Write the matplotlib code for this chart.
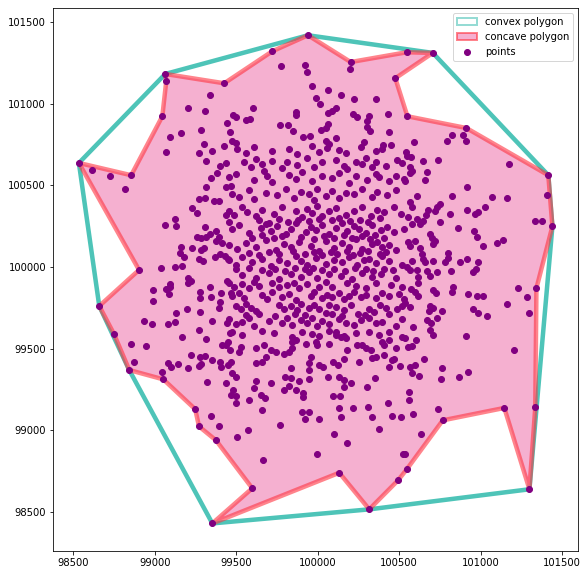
import matplotlib
matplotlib.use('Agg')
import matplotlib.pyplot as plt
from matplotlib.patches import Polygon, Patch
from matplotlib.lines import Line2D

# ---- hull vertices ----
convex_x = [98535, 99065, 99941, 100707, 101416, 101441, 101300, 100317, 99354, 98844, 98660]
convex_y = [100637, 101182, 101419, 101311, 100562, 100249, 98639, 98516, 98430, 99369, 99761]

concave_x = [99941, 100203, 100547, 100707, 100477, 100551, 100913, 101416, 101441, 101343,
             101336, 101300, 101146, 100768, 100547, 100494, 100317, 100133, 99354, 99599,
             99376, 99272, 99249, 99053, 98844, 98750, 98660, 98904, 98535, 98856,
             99047, 99071, 99065, 99427, 99722]
concave_y = [101419, 101255, 101315, 101311, 101156, 100923, 100851, 100562, 100249, 99870,
             99141, 98639, 99137, 99061, 98761, 98694, 98516, 98740, 98430, 98645,
             98939, 99024, 99129, 99312, 99369, 99590, 99761, 99982, 100637, 100562,
             100923, 101137, 101182, 101125, 101321]

# ---- point cloud, grouped by region ----
pts_top = [(99341,101052),(99206,100974),(99311,100954),(99481,100933),(99446,100880),(99286,100837),
    (99163,100819),(99096,100796),(99464,100825),(99304,100753),(99427,100739),
    (99777,101229),(99924,101235),(99937,101192),(100197,101214),(99967,101107),(100066,101082),
    (99992,101035),(100017,100996),(100145,101051),(100225,101027),(100360,101027),(100066,100941),
    (100090,100957),(100115,100974),(99869,100949),(99869,100929),(99605,100972),(99497,100920),
    (99562,100898),(99587,100906),(99771,100868),(99820,100868),(99851,100831),(99909,100794),
    (99953,100800),(100023,100837),(100050,100851),(100066,100876),(100111,100790),(100050,100773),
    (100070,100753),(100219,100937),(100244,100917),(100316,100923),(100305,100892),(100301,100859),
    (100320,100831),(100434,100935),(100440,100825),(100287,100766),(100403,100749),(99501,100759),
    (99476,100773),(100594,100764),(100796,100773),(100827,100807),(100894,100810),(100913,100770)]

pts_left = [(98617,100594),(98724,100555),(98819,100478),(99071,100702),(99272,100696),(99354,100709),
    (99317,100651),(99438,100637),(99399,100620),(99384,100574),(99347,100543),(99317,100488),
    (99440,100488),(99466,100498),(99270,100416),(99307,100423),(99364,100402),(99395,100402),
    (99231,100360),(99261,100329),(99440,100320),(99454,100274),(99061,100257),(99123,100294),
    (99133,100253),(99311,100243),(99261,100182),(99286,100176),(99317,100182),(99338,100202),
    (99378,100222),(99393,100186),(99374,100157),(99415,100145),(99163,100124),(99153,100084),
    (99178,100063),(99231,100115),(99286,100104),(99301,100116),(99270,100049),(99296,100035),
    (99368,100059),(99399,100080),(99430,100069),(99450,100049),(99040,99992),(99123,99998),
    (99169,100004),(99204,99933),(99225,99916),(99444,99916),(99096,99896)]

pts_right = [(100547,100682),(100573,100672),(100567,100611),(100578,100590),(100567,100574),(100649,100651),
    (100741,100655),(100670,100580),(100659,100533),(100537,100529),(101177,100631),(100919,100488),
    (100608,100433),(100823,100433),(101073,100427),(101161,100421),(100567,100396),(100578,100366),
    (100557,100304),(100608,100294),(100578,100263),(100629,100263),(100649,100284),(100664,100318),
    (100680,100349),(100721,100345),(100731,100366),(100751,100386),(100915,100349),(100966,100325),
    (100987,100335),(101028,100366),(100815,100325),(100751,100274),(100864,100239),(101335,100280),
    (101379,100280),(100690,100202),(100700,100178),(100721,100161),(100710,100141),(100962,100219),
    (100977,100186),(100557,100151),(100598,100157),(100567,100130),(101017,100127),(101100,100145),
    (101140,100167),(100629,100116),(100639,100080),(100649,100049),(100659,100029),(100578,100039),
    (100710,100039),(100782,100029),(100802,100053),(100802,100084),(100874,100029),(100915,100049),
    (100987,100029),(100547,99998),(100567,99982),(100608,99982),(100670,99977),(100690,99947),
    (100735,99968),(100817,99974),(100956,99968),(100971,99986),(100618,99941),(100618,99900),
    (101410,100439)]

pts_right_low = [(100573,99863),(100598,99849),(100618,99822),(100710,99859),(100725,99843),(100833,99876),
    (100827,99849),(100920,99837),(100980,99822),(101017,99822),(101232,99870),(101287,99814),
    (101165,99773),(101300,99716),(100569,99753),(100537,99778),(100690,99761),(100684,99732),
    (100710,99747),(100762,99732),(100956,99741),(100987,99716),(101042,99700),(100670,99675),
    (100696,99659),(100690,99614),(100710,99584),(100735,99686),(100588,99631),(100911,99577),
    (100537,99563),(100606,99551),(100553,99512),(100578,99516),(101208,99492),(100655,99435),
    (100567,99389),(100598,99400),(100581,99349),(100624,99334),(100762,99380),(100758,99312),
    (100870,99324),(100925,99355),(100561,99234),(100561,99185),(100741,99130),(100588,99098),
    (100635,98975),(100537,98853)]

pts_left_low = [(98990,99859),(99071,99863),(99096,99879),(99088,99833),(98990,99792),(99204,99904),
    (99276,99849),(99276,99808),(99338,99879),(99347,99814),(99399,99787),(99395,99747),
    (99470,99839),(99409,99839),(99132,99716),(99200,99741),(99276,99726),(99123,99665),
    (99082,99649),(98934,99671),(98985,99649),(99354,99671),(99444,99655),(99460,99594),
    (99270,99614),(99317,99557),(99169,99573),(99450,99543),(99440,99522),(99460,99492),
    (99415,99522),(98856,99527),(98945,99518),(99225,99461),(99276,99447),(99307,99455),
    (99270,99394),(99286,99406),(99354,99430),(99399,99420),(99409,99386),(99450,99400),
    (99470,99420),(99204,99380),(99143,99404),(99082,99414),(99102,99386),(98873,99420),
    (99047,99357),(99323,99298),(99440,99288),(99470,99216),(99481,99247),(99347,99088),
    (99395,99024)]

pts_bottom = [(99507,98961),(99575,99002),(99769,99031),(99921,99071),(100009,99067),(100142,99083),
    (100336,99083),(100377,99006),(100514,99081),(100455,99088),(100101,98975),(100182,98920),
    (99998,98853),(99667,98816),(100526,98853)]

pts_center_low = [(99660,99124),(99906,99114),(99947,99114),(100131,99135),(100217,99135),(100311,99144),
    (100434,99165),(100096,99210),(100138,99210),(99910,99227),(99910,99202),(99651,99216),
    (99677,99196),(99501,99169),(99497,99210),(99716,99288),(99794,99247),(99824,99271),
    (99866,99247),(99886,99304),(99947,99312),(100064,99324),(100131,99328),(100162,99308),
    (100162,99267),(100203,99291),(100305,99263),(100350,99318),(100438,99386),(100506,99394),
    (100459,99430),(99620,99304),(99610,99257),(99579,99185),(99835,99380),(99800,99324),
    (99835,99318),(99947,99369),(99947,99410),(99958,99451),(100009,99400),(100035,99389),
    (100096,99420),(100127,99400),(100162,99437),(100254,99420),(100336,99441),(100408,99461),
    (100469,99435),(99476,99349),(99497,99328),(99620,99410),(99660,99420),(99681,99451),
    (99712,99492),(99743,99481),(99794,99467),(99824,99481),(99841,99502),(99845,99543),
    (99866,99553),(99528,99512),(99517,99481),(99620,99502),(99671,99522),(99927,99527),
    (99988,99543),(99998,99522),(100070,99527),(100111,99584),(100142,99573),(100173,99563),
    (100182,99492),(100244,99522),(100274,99522),(100295,99502),(100326,99492),(100357,99451),
    (100397,99543),(100438,99553),(100480,99502),(100408,99522)]

pts_center_mid = [
    (99456,99905),(99487,99880),(99538,99895),(99579,99870),(99610,99910),(99640,99885),(99722,99900),
    (99763,99875),(99814,99890),(99855,99905),(99886,99870),(99937,99895),(100009,99880),(100050,99910),
    (100090,99875),(100182,99900),(100234,99885),(100295,99870),(100357,99905),(100449,99890),(100520,99880),
    (99476,99820),(99517,99840),(99548,99810),(99660,99830),(99691,99805),(99722,99845),(99783,99815),
    (99824,99835),(99866,99800),(99958,99825),(99978,99845),(100029,99810),(100060,99830),(100090,99815),
    (100131,99840),(100162,99805),(100193,99825),(100224,99845),(100265,99815),(100295,99830),(100357,99810),
    (100397,99840),(100438,99820),(100500,99835),(100530,99805),
    (99497,99760),(99528,99740),(99559,99775),(99589,99750),(99620,99730),(99763,99770),(99794,99745),
    (99835,99760),(99875,99735),(99896,99775),(99947,99750),(99978,99765),(100009,99740),(100050,99720),
    (100070,99770),(100111,99755),(100162,99735),(100203,99765),(100316,99745),(100346,99725),(100385,99770),
    (100418,99750),(100489,99740),(100520,99760),
    (99456,99680),(99497,99650),(99538,99665),(99579,99690),(99610,99640),(99702,99670),(99783,99655),
    (99814,99685),(99845,99645),(99896,99675),(99937,99660),(99967,99690),(99998,99640),(100029,99670),
    (100070,99650),(100131,99680),(100173,99660),(100224,99645),(100265,99675),(100316,99690),(100357,99655),
    (100397,99665),(100480,99640),(100520,99680),
    (99476,99600),(99538,99585),(99660,99610),(99732,99595),(99845,99570),(99906,99605),(99967,99590),
    (100009,99575),(100070,99610),(100111,99600),(100162,99580),(100234,99595),(100316,99605),(100377,99585),
    (100438,99600),(100520,99570)]

pts_center_high = [
    (99507,100720),(99559,100700),(99610,100735),(99722,100710),(99824,100725),(99875,100695),(99967,100740),
    (100009,100705),(100060,100730),(100131,100715),(100173,100700),(100265,100735),(100357,100710),
    (100397,100725),(100449,100745),(100541,100705),
    (99548,100640),(99589,100615),(99620,100660),(99660,100630),(99722,100650),(99783,100605),(99814,100645),
    (99875,100625),(99937,100665),(99978,100610),(100029,100640),(100111,100655),(100162,100620),(100182,100600),
    (100234,100645),(100274,100630),(100295,100665),(100336,100610),(100357,100640),(100418,100620),
    (100489,100655),(100520,100635),
    (99456,100550),(99497,100570),(99610,100530),(99671,100585),(99691,100555),(99722,100520),(99824,100565),
    (99866,100540),(99906,100580),(99967,100525),(100029,100560),(100090,100545),(100131,100575),(100193,100515),
    (100234,100555),(100305,100535),(100357,100570),(100377,100550),(100438,100525),(100480,100560),(100530,100540),
    (99476,100450),(99517,100430),(99579,100470),(99610,100415),(99681,100455),(99753,100440),(99804,100480),
    (99855,100425),(99896,100460),(99947,100445),(99978,100410),(99998,100475),(100050,100435),(100090,100465),
    (100131,100420),(100173,100455),(100224,100445),(100274,100480),(100336,100430),(100367,100460),
    (100428,100440),(100480,100470),
    (99456,100340),(99487,100320),(99538,100365),(99568,100335),(99620,100310),(99660,100350),(99732,100325),
    (99783,100370),(99866,100340),(99906,100305),(99937,100355),(99967,100330),(99998,100375),(100029,100315),
    (100070,100345),(100111,100360),(100173,100320),(100224,100340),(100274,100370),(100326,100310),
    (100367,100350),(100408,100335),(100469,100365),(100510,100325),
    (99476,100230),(99517,100255),(99579,100210),(99651,100240),(99681,100265),(99712,100220),(99753,100250),
    (99804,100200),(99835,100235),(99866,100270),(99927,100215),(99958,100245),(99988,100225),(100029,100260),
    (100070,100205),(100111,100240),(100152,100270),(100182,100220),(100224,100250),(100254,100235),
    (100295,100210),(100336,100260),(100387,100225),(100428,100245),(100469,100215),(100530,100235),
    (99456,100135),(99507,100110),(99559,100150),(99620,100125),(99681,100165),(99743,100105),(99794,100140),
    (99835,100120),(99886,100155),(99958,100130),(100009,100100),(100050,100160),(100101,100115),(100152,100145),
    (100193,100125),(100234,100170),(100274,100110),(100336,100140),(100367,100155),(100397,100120),
    (100438,100135),(100480,100105),
    (99456,100040),(99497,100015),(99538,100060),(99599,100030),(99660,100050),(99712,100005),(99763,100045),
    (99814,100025),(99866,100065),(99896,100035),(99937,100010),(99988,100055),(100050,100020),(100101,100045),
    (100152,100030),(100193,100060),(100244,100015),(100285,100040),(100316,100050),(100357,100025),
    (100397,100065),(100438,100035),(100520,100010),
    (99538,99950),(99620,99935),(99702,99965),(99763,99925),(99835,99955),(99896,99940),(99947,99970),
    (99998,99930),(100070,99960),(100142,99945),(100213,99925),(100274,99965),(100336,99940),(100387,99955),
    (100480,99930)]

# extra points filling the dense core of the cloud
pts_core = [
    (99640,100285),(99700,100270),(99760,100295),(99820,100275),(99880,100290),(99950,100280),(100010,100295),
    (100090,100285),(100130,100300),(100200,100280),(100260,100290),(100310,100275),(100380,100300),
    (99600,100180),(99660,100195),(99730,100175),(99780,100190),(99900,100185),(99980,100170),(100040,100190),
    (100100,100175),(100160,100195),(100210,100180),(100270,100190),(100320,100170),(100350,100195),(100410,100180),
    (99580,100085),(99640,100075),(99700,100090),(99760,100080),(99850,100095),(99920,100080),(99980,100090),
    (100030,100075),(100080,100090),(100120,100080),(100180,100095),(100220,100075),(100260,100085),
    (100310,100095),(100380,100080),(100420,100090),
    (99500,99985),(99580,99995),(99660,99980),(99740,99990),(99800,99975),(99860,99995),(99920,99985),
    (99970,99995),(100030,99980),(100100,99990),(100170,99975),(100230,99995),(100300,99985),(100340,99975),
    (100410,99990),(100460,99980),
    (99560,99705),(99640,99710),(99740,99700),(99860,99715),(99920,99705),(100090,99710),(100150,99700),
    (100250,99715),(100290,99705),(100440,99710)]

x_ticks = [98500, 99000, 99500, 100000, 100500, 101000, 101500]
y_ticks = [98500, 99000, 99500, 100000, 100500, 101000, 101500]

teal = '#4ec4b8'
pink = '#f5b0d0'
red_edge = (1.0, 0.2, 0.25, 0.6)
purple = 'purple'

fig = plt.figure(figsize=(588/72, 575/72), dpi=72)
ax = fig.add_axes([53/588, 24/575, 525.3/588, 543/575])

ax.add_patch(Polygon(list(zip(convex_x, convex_y)), closed=True, fill=False,
                     edgecolor=teal, linewidth=4.5, joinstyle='round', zorder=1))
ax.add_patch(Polygon(list(zip(concave_x, concave_y)), closed=True, facecolor=pink,
                     edgecolor='none', zorder=2))
ax.add_patch(Polygon(list(zip(concave_x, concave_y)), closed=True, fill=False,
                     edgecolor=red_edge, linewidth=4.5, joinstyle='round', zorder=3))

groups = [pts_top, pts_left, pts_right, pts_right_low, pts_left_low, pts_bottom,
          pts_center_low, pts_center_mid, pts_center_high, pts_core]
all_pts = [p for g in groups for p in g] + list(zip(concave_x, concave_y))
px = [p[0] for p in all_pts]
py = [p[1] for p in all_pts]
ax.scatter(px, py, s=36, color=purple, zorder=4)

ax.set_xlim(98376, 101600)
ax.set_ylim(98261, 101586)
ax.set_xticks(x_ticks)
ax.set_yticks(y_ticks)
ax.tick_params(labelsize=10)

handles = [Patch(facecolor='white', edgecolor=teal, alpha=0.6, linewidth=2, label='convex polygon'),
           Patch(facecolor=pink, edgecolor=red_edge, linewidth=2, label='concave polygon'),
           Line2D([], [], marker='o', linestyle='none', color=purple, markersize=6, label='points')]
ax.legend(handles=handles, loc='upper right', fontsize=10)

fig.savefig('out.png', dpi=72)
